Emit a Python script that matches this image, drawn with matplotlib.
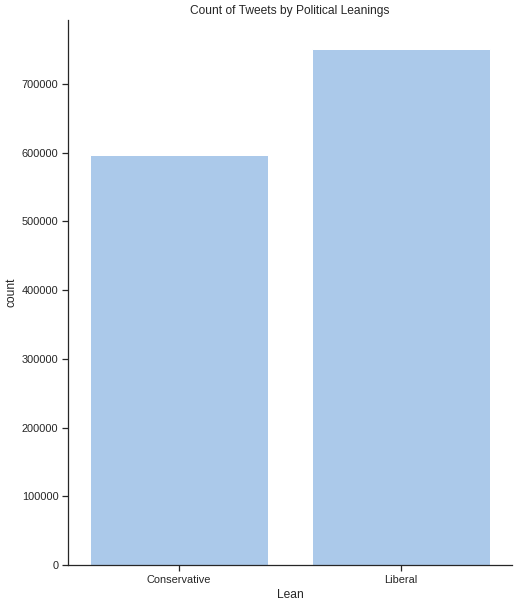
import matplotlib
matplotlib.use("Agg")
import matplotlib.pyplot as plt
import seaborn as sns

leans = ["Conservative", "Liberal"]
counts = [597000, 751000]

sns.set_theme(style="ticks", context="notebook")
plt.rcParams['font.family'] = ['Liberation Sans', 'DejaVu Sans']

fig = plt.figure(figsize=(521 / 72, 605 / 72), dpi=72)
ax = fig.add_axes([0.1305, 0.066, 0.852, 0.901])

sns.barplot(x=leans, y=counts, color=sns.color_palette("pastel")[0], ax=ax)
ax.set_xlabel("Lean")
ax.set_ylabel("count")
ax.set_title("Count of Tweets by Political Leanings")
ax.set_ylim(0, 793000)
sns.despine(ax=ax)

fig.savefig("out.png", dpi=72)
